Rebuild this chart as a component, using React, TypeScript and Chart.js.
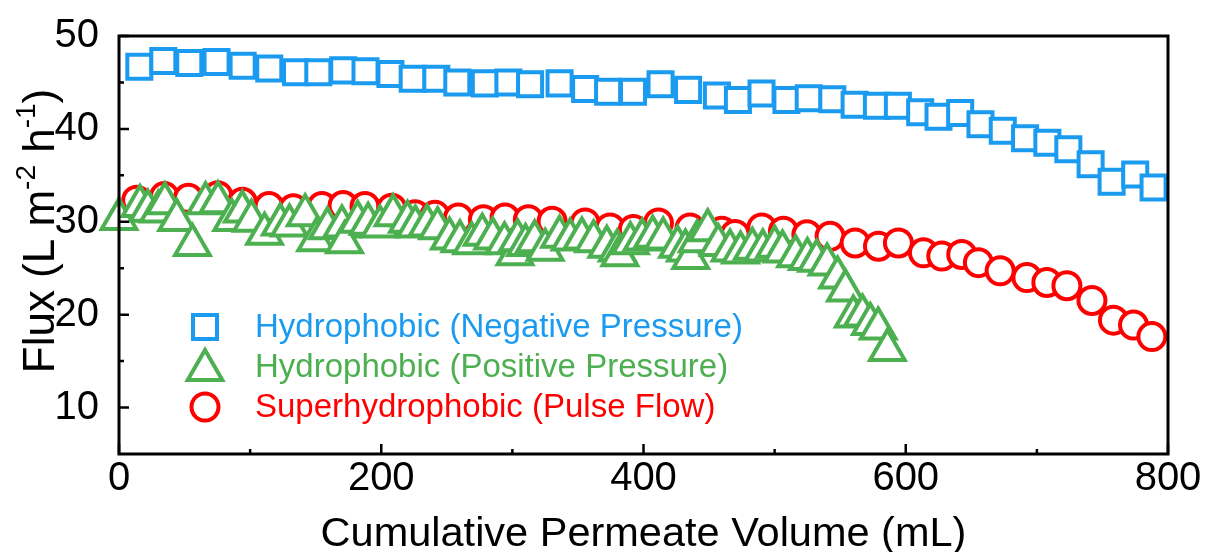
import React, { useEffect, useRef } from 'react';
import { Chart, registerables } from 'chart.js';

Chart.register(...registerables);

const FONT = "'Liberation Sans', Arial, Helvetica, sans-serif";

const seriesLabels = [
  'Hydrophobic (Negative Pressure)',
  'Hydrophobic (Positive Pressure)',
  'Superhydrophobic (Pulse Flow)',
];
const seriesColors = ['#1A9BF0', '#4CAF50', '#FF0000'];

const xTitle = 'Cumulative Permeate Volume (mL)';
const xTicks = [0, 200, 400, 600, 800];
const xMinorTicks = [100, 300, 500, 700];
const yTicks = [10, 20, 30, 40, 50];
const yMinorTicks = [15, 25, 35, 45];

// Hydrophobic (Negative Pressure)
const negX = [15.5, 33.8, 53.6, 74.4, 94.3, 114.6, 135, 152, 171, 188, 207, 224, 242, 258, 279, 297, 313.5, 336, 355.5, 373, 392, 413, 434, 456, 472, 490, 509, 526, 544, 561, 578, 594, 611, 625, 641.5, 657, 674, 691, 708, 724, 741, 757, 775, 789];
const negY = [46.7, 47.3, 47.1, 47.2, 46.8, 46.5, 46.1, 46.1, 46.3, 46.2, 45.9, 45.4, 45.4, 45.0, 44.9, 45.0, 44.8, 44.9, 44.3, 44.0, 44.0, 44.8, 44.2, 43.6, 43.1, 43.8, 43.1, 43.3, 43.2, 42.6, 42.5, 42.5, 41.8, 41.3, 41.7, 40.5, 39.8, 39.0, 38.5, 37.8, 36.2, 34.3, 35.1, 33.7];

// Hydrophobic (Positive Pressure)
const posX = [0, 16, 22, 30, 35, 44, 56, 66, 75.5, 86, 94, 101, 111, 123, 130, 142, 150, 159, 170, 172, 182, 190, 199, 209, 220, 226, 235, 243, 252, 260, 269, 277, 285, 294, 302, 304, 310, 317, 325, 336, 344, 353, 362, 372, 380, 382, 390, 399, 407, 415, 426, 432, 436, 441, 449, 457, 466, 474, 483, 491, 500, 506, 516, 525, 532, 540, 548, 554, 560, 567, 573, 579, 586];
const posY = [30.3, 31.7, 31.2, 31.1, 32.0, 30.2, 27.5, 32.0, 32.1, 30.2, 31.1, 30.1, 28.7, 29.7, 29.6, 30.7, 28.0, 29.3, 29.5, 27.8, 30.0, 29.8, 29.5, 30.7, 30.0, 29.5, 29.6, 29.3, 28.2, 27.9, 27.7, 28.6, 28.2, 27.7, 26.5, 28.0, 27.5, 27.9, 27.0, 28.4, 28.1, 28.2, 27.9, 27.3, 26.9, 26.4, 27.7, 28.1, 28.4, 28.2, 27.3, 26.9, 26.1, 27.9, 29.1, 27.5, 26.9, 26.7, 27.1, 26.9, 27.3, 26.8, 26.3, 26.0, 25.8, 25.4, 24.0, 22.6, 19.8, 19.9, 19.0, 18.5, 16.2];

// Superhydrophobic (Pulse Flow)
const pulseX = [13.5, 34.6, 52.9, 75.3, 94.1, 114.4, 133, 154.8, 170.9, 187.6, 208, 225.8, 241, 258.8, 277.9, 294.4, 312.2, 330.3, 355.5, 374.5, 392.3, 411.4, 435.5, 459.7, 469.9, 490.2, 506.7, 524.6, 542.3, 561.4, 579.2, 594.4, 613.5, 627.5, 642.7, 655.4, 672, 692.4, 707.6, 722.9, 742, 758.4, 773.7, 787.7];
const pulseY = [32.33, 32.71, 32.53, 32.81, 32.1, 31.64, 31.4, 31.64, 31.75, 31.64, 31.46, 30.76, 30.69, 30.4, 30.23, 30.4, 30.23, 30.05, 29.87, 29.34, 29.17, 29.87, 29.34, 28.99, 28.64, 29.34, 28.99, 28.6, 28.43, 27.72, 27.37, 27.72, 26.66, 26.31, 26.48, 25.6, 24.72, 24.0, 23.47, 23.12, 21.53, 19.41, 18.88, 17.64];

const toPoints = (xs: number[], ys: number[]) => xs.map((x, i) => ({ x, y: ys[i] }));

const MARK = {
  square: 17,
  triangle: 20,
  circle: 13.5,
};
const MARK_W = 4;

function drawMarker(ctx: CanvasRenderingContext2D, kind: string, x: number, y: number, color: string) {
  ctx.save();
  ctx.fillStyle = '#fff';
  ctx.strokeStyle = color;
  ctx.lineWidth = MARK_W;
  ctx.beginPath();
  if (kind === 'rect') {
    const h = MARK.square * Math.SQRT1_2;
    ctx.rect(x - h, y - h, 2 * h, 2 * h);
  } else if (kind === 'triangle') {
    const r = MARK.triangle;
    ctx.moveTo(x, y - r);
    ctx.lineTo(x + 0.866 * r, y + r / 2);
    ctx.lineTo(x - 0.866 * r, y + r / 2);
    ctx.closePath();
  } else {
    ctx.arc(x, y, MARK.circle, 0, Math.PI * 2);
  }
  ctx.fill();
  ctx.stroke();
  ctx.restore();
}

const framePlugin = {
  id: 'frameTicks',
  afterDatasetsDraw(chart: any) {
    const { ctx, chartArea: a, scales } = chart;
    ctx.save();
    ctx.strokeStyle = '#000';
    ctx.lineCap = 'butt';
    ctx.lineWidth = 2.5;
    ctx.beginPath();
    for (const v of xTicks) {
      const p = scales.x.getPixelForValue(v);
      ctx.moveTo(p, a.bottom);
      ctx.lineTo(p, a.bottom - 10);
    }
    for (const v of xMinorTicks) {
      const p = scales.x.getPixelForValue(v);
      ctx.moveTo(p, a.bottom);
      ctx.lineTo(p, a.bottom - 5);
    }
    for (const v of yTicks) {
      const p = scales.y.getPixelForValue(v);
      ctx.moveTo(a.left, p);
      ctx.lineTo(a.left + 10, p);
    }
    for (const v of yMinorTicks) {
      const p = scales.y.getPixelForValue(v);
      ctx.moveTo(a.left, p);
      ctx.lineTo(a.left + 5, p);
    }
    ctx.stroke();
    ctx.lineWidth = 3;
    ctx.strokeRect(a.left, a.top, a.right - a.left, a.bottom - a.top);
    ctx.restore();
  },
};

const legendPlugin = {
  id: 'insideLegend',
  afterDraw(chart: any) {
    const { ctx, chartArea: a } = chart;
    const kinds = ['rect', 'triangle', 'circle'];
    const rowsY = [327, 367, 407];
    const markX = a.left + 86;
    const textX = a.left + 136;
    ctx.save();
    ctx.font = `33px ${FONT}`;
    ctx.textBaseline = 'middle';
    ctx.textAlign = 'left';
    seriesLabels.forEach((lab, i) => {
      const my = kinds[i] === 'triangle' ? rowsY[i] + 3 : rowsY[i];
      drawMarker(ctx, kinds[i], markX, my, seriesColors[i]);
      ctx.fillStyle = seriesColors[i];
      ctx.fillText(lab, textX, rowsY[i] + 1);
    });
    ctx.restore();
  },
};

const yTitlePlugin = {
  id: 'yTitle',
  afterDraw(chart: any) {
    const ctx = chart.ctx;
    const size = 44;
    const sup = 28;
    const parts = [
      { t: 'Flux (L m', s: size, dy: 0 },
      { t: '-2', s: sup, dy: -0.42 * size },
      { t: ' h', s: size, dy: 0 },
      { t: '-1', s: sup, dy: -0.42 * size },
      { t: ')', s: size, dy: 0 },
    ];
    ctx.save();
    let total = 0;
    const widths = parts.map((p) => {
      ctx.font = `${p.s}px ${FONT}`;
      const w = ctx.measureText(p.t).width;
      total += w;
      return w;
    });
    ctx.translate(38, 231);
    ctx.rotate(-Math.PI / 2);
    ctx.fillStyle = '#000';
    ctx.textBaseline = 'alphabetic';
    ctx.textAlign = 'left';
    let x = -total / 2;
    const base = 0.716 * size / 2;
    parts.forEach((p, i) => {
      ctx.font = `${p.s}px ${FONT}`;
      ctx.fillText(p.t, x, base + p.dy);
      x += widths[i];
    });
    ctx.restore();
  },
};

export default function App() {
  const ref = useRef<HTMLCanvasElement | null>(null);
  useEffect(() => {
    if (!ref.current) return;
    const common = { showLine: false, pointBorderWidth: MARK_W, pointBackgroundColor: '#ffffff', clip: false as any };
    const chart = new Chart(ref.current, {
      type: 'scatter',
      data: {
        datasets: [
          {
            label: seriesLabels[0],
            data: toPoints(negX, negY),
            pointStyle: 'rect',
            pointRadius: MARK.square,
            borderColor: seriesColors[0],
            pointBorderColor: seriesColors[0],
            ...common,
          },
          {
            label: seriesLabels[1],
            data: toPoints(posX, posY),
            pointStyle: 'triangle',
            pointRadius: MARK.triangle,
            borderColor: seriesColors[1],
            pointBorderColor: seriesColors[1],
            ...common,
          },
          {
            label: seriesLabels[2],
            data: toPoints(pulseX, pulseY),
            pointStyle: 'circle',
            pointRadius: MARK.circle,
            borderColor: seriesColors[2],
            pointBorderColor: seriesColors[2],
            ...common,
          },
        ],
      },
      options: {
        animation: false,
        responsive: true,
        maintainAspectRatio: false,
        devicePixelRatio: 1,
        events: [],
        layout: { padding: { top: 30, right: 38, left: 0, bottom: 0 } },
        plugins: { legend: { display: false }, tooltip: { enabled: false } },
        scales: {
          x: {
            type: 'linear',
            min: 0,
            max: 800,
            afterBuildTicks: (s: any) => {
              s.ticks = xTicks.map((v) => ({ value: v }));
            },
            grid: { display: false },
            border: { display: false },
            ticks: { font: { family: FONT, size: 40 }, color: '#000', padding: -7, maxRotation: 0, autoSkip: false },
            title: { display: true, text: xTitle, color: '#000', font: { family: FONT, size: 41.5 }, padding: { top: 0, bottom: -7 } },
            afterFit: (s: any) => {
              s.height = 98;
            },
          },
          y: {
            type: 'linear',
            min: 5,
            max: 50,
            afterBuildTicks: (s: any) => {
              s.ticks = yTicks.map((v) => ({ value: v }));
            },
            grid: { display: false },
            border: { display: false },
            ticks: { font: { family: FONT, size: 40 }, color: '#000', padding: 12, autoSkip: false },
            afterFit: (s: any) => {
              s.width = 119;
            },
          },
        },
      },
      plugins: [framePlugin, legendPlugin, yTitlePlugin],
    });
    return () => chart.destroy();
  }, []);
  return (
    <div style={{ position: 'fixed', left: 0, top: 0, width: '1206px', height: '552px', background: '#fff' }}>
      <canvas ref={ref} />
    </div>
  );
}
